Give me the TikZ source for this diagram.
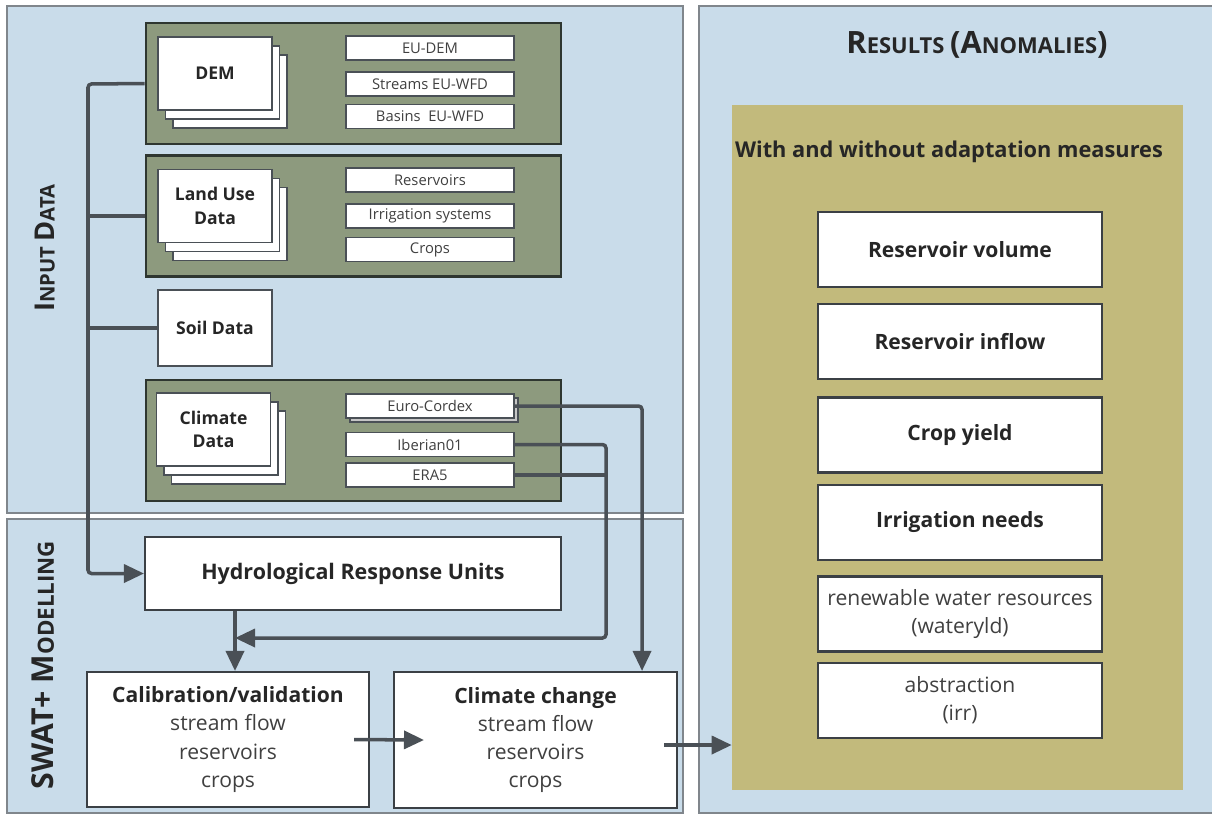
\documentclass[tikz,border=0pt]{standalone}
\usepackage{fontspec}
\setmainfont{Open Sans}
\usetikzlibrary{arrows.meta,calc}
\definecolor{panelblue}{HTML}{C9DCEA}
\definecolor{panelline}{HTML}{80868C}
\definecolor{groupgreen}{HTML}{8D9A7E}
\definecolor{groupline}{HTML}{2E3630}
\definecolor{resolive}{HTML}{C2BA7C}
\definecolor{linkgrey}{HTML}{4A5056}
\definecolor{textgrey}{HTML}{404040}
\newcommand{\capfirst}[2]{{\fontsize{#1}{#1}\selectfont #2}}

\begin{document}
\begin{tikzpicture}[x=0.02cm, y=-0.02cm,
    panel/.style={draw=panelline, line width=1.1pt, fill=panelblue},
    group/.style={rectangle, draw=groupline, line width=1.5pt, fill=groupgreen, minimum width=8.3cm, minimum height=2.42cm},
    sheet/.style={rectangle, draw=linkgrey, line width=0.8pt, fill=white, minimum width=2.28cm, minimum height=1.46cm, align=center, font=\bfseries\fontsize{10}{13.5}\selectfont, text=black!85},
    item/.style={rectangle, draw=linkgrey, line width=0.8pt, fill=white, minimum width=3.36cm, minimum height=0.48cm, inner sep=0pt, font=\fontsize{8.4}{9}\selectfont, text=textgrey},
    box/.style={rectangle, draw=linkgrey!80!black, line width=1.2pt, fill=white, align=center, font=\fontsize{12}{16}\selectfont, text=textgrey},
    result/.style={box, minimum width=5.68cm, minimum height=1.5cm},
    keyresult/.style={result, font=\bfseries\fontsize{12}{16}\selectfont, text=black!85},
    link/.style={draw=linkgrey, line width=2pt, rounded corners=2pt},
    arrow/.style={link, -{Triangle[length=0.4cm, width=0.36cm]}}
]
\useasboundingbox (0,0) rectangle (1212,816);
\fill[white] (0,0) rectangle (1212,816);
\draw[panel] (7,6) rectangle (683,513);
\draw[panel] (7,519) rectangle (683,813);
\draw[panel] (699,6) rectangle (1216,813);

\node[rotate=90, font=\bfseries\fontsize{11.5}{14}\selectfont, text=black!85] (intitle) at (45,248) {\capfirst{15.5}{I}NPUT \capfirst{15.5}{D}ATA};
\node[rotate=90, font=\bfseries\fontsize{12.7}{14}\selectfont, text=black!85] (swattitle) at (43,665) {\capfirst{17.2}{SWAT+ M}ODELLING};
\node[font=\bfseries\fontsize{12.5}{14}\selectfont, text=black!85] (restitle) at (977,45) {\capfirst{17.5}{R}ESULTS \capfirst{17.5}{(A}NOMALIES\capfirst{17.5}{)}};

\node[group] (demgrp) at (353.5,83.5) {};
\foreach \d in {2,1} \node[sheet] at (215+7.5*\d,73.5+9*\d) {};
\node[sheet] (dem) at (215,73.5) {DEM};
\node[item] (eudem) at (430,48) {EU-DEM};
\node[item] (streams) at (430,84) {Streams EU-WFD};
\node[item] (basins) at (430,116.5) {Basins\ \ EU-WFD};

\node[group] (landgrp) at (353.5,216) {};
\foreach \d in {2,1} \node[sheet] at (215+7.5*\d,206+9*\d) {};
\node[sheet] (land) at (215,206) {Land Use\\Data};
\node[item] (reserv) at (430,180) {Reservoirs};
\node[item] (irrig) at (430,216) {Irrigation systems};
\node[item] (crops) at (430,249.5) {Crops};

\node[sheet, minimum height=1.52cm] (soil) at (215,328) {Soil Data};

\node[group] (climgrp) at (353.5,440.5) {};
\foreach \d in {2,1} \node[sheet] at (213.5+7.5*\d,429.5+9*\d) {};
\node[sheet] (clim) at (213.5,429.5) {Climate\\Data};
\node[item, fill=gray!45] at (434,410) {};
\node[item] (euro) at (430,406) {Euro-Cordex};
\node[item] (iberian) at (430,444.5) {Iberian01};
\node[item] (era5) at (430,475) {ERA5};

\node[box, font=\bfseries\fontsize{12.2}{16}\selectfont, text=black!85, minimum width=8.32cm, minimum height=1.46cm] (hru) at (353,573.5) {Hydrological Response Units};
\node[box, minimum width=5.64cm, minimum height=2.7cm] (calib) at (228,739.5) {\textbf{\textcolor{black!85}{Calibration/validation}}\\stream flow\\reservoirs\\crops};
\node[box, minimum width=5.66cm, minimum height=2.72cm] (climchange) at (535.5,740) {\textbf{\textcolor{black!85}{Climate change}}\\stream flow\\reservoirs\\crops};

\node[fill=resolive, minimum width=9.02cm, minimum height=13.7cm] (results) at (957.5,447.5) {};
\node[font=\bfseries\fontsize{12.4}{14}\selectfont, text=black!85] (adapt) at (949,152) {With and without adaptation measures};
\node[keyresult] (vol) at (960,249.5) {Reservoir volume};
\node[keyresult] (inflow) at (960,341.5) {Reservoir inflow};
\node[keyresult] (yield) at (960,435) {Crop yield};
\node[keyresult] (irrneeds) at (960,522.5) {Irrigation needs};
\node[result] (renew) at (960,614) {renewable water resources\\(wateryld)};
\node[result] (abstr) at (960,700.5) {abstraction\\(irr)};

\coordinate (bus) at (88,84);
\coordinate (merge) at (235,638);
\coordinate (drop) at (606,638);
\coordinate (ccin) at ([xshift=-0.72cm]climchange.north east);
\coordinate (ccout) at ([xshift=-0.28cm,yshift=-0.1cm]climchange.east);
\draw[arrow] (demgrp.west) -- (bus) |- (hru.west);
\draw[link] (landgrp.west) -- (landgrp.west -| bus);
\draw[link] (soil.west) -- (soil.west -| bus);
\draw[arrow] (hru.south -| merge) -- (merge |- calib.north);
\draw[arrow] (iberian.east) -| (drop) -- (merge);
\draw[link] (era5.east) -- (era5.east -| drop);
\draw[arrow] (euro.east) -| (ccin);
\draw[arrow] ([xshift=-0.32cm]calib.east) -- ([xshift=0.62cm]climchange.west);
\draw[arrow] (ccout) -- (ccout -| results.west);
\end{tikzpicture}
\end{document}
